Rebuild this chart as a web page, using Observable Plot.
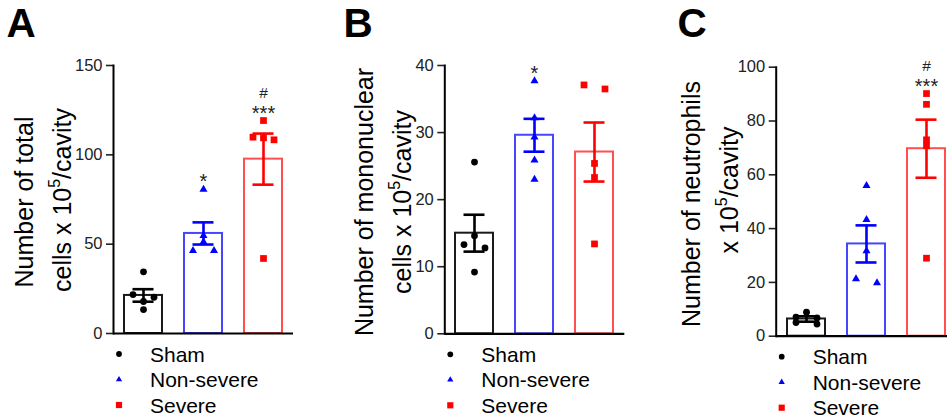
<!DOCTYPE html>
<html><head><meta charset="utf-8">
<script src="https://cdn.jsdelivr.net/npm/d3@7"></script>
<script src="https://cdn.jsdelivr.net/npm/@observablehq/plot@0.6"></script>
<style>
html,body{margin:0;padding:0;background:#fff;overflow:hidden}
#wrap{position:relative;width:947px;height:419px;overflow:hidden;font-family:"Liberation Sans",Arial,sans-serif}
.panel{position:absolute;top:0}
.panel svg{max-width:none !important;display:block}
#overlay{position:absolute;left:0;top:0}
</style></head><body><div id="wrap"></div>
<script>
// ---------- data ----------
const groups = ["Sham", "Non-severe", "Severe"];

// Panel A: total cells (x10^5/cavity)
const totalSham = [34.5, 21.8, 20.3, 17.9, 13.4];
const totalNonSevere = [80.7, 54.7, 51.3, 46.4, 46.4];
const totalSevere = [119.2, 109.5, 108.4, 109.9, 42.0];
const totalMean = [21.3, 56.0, 97.6];
const totalSem = [3.5, 6.2, 14.3];
const totalTicks = [0, 50, 100, 150];
const totalStars = ["", "*", "***"];
const totalHash = ["", "", "#"];

// Panel B: mononuclear cells
const monoSham = [25.6, 14.6, 13.3, 12.8, 9.2];
const monoNonSevere = [37.7, 32.2, 29.3, 25.9, 23.0];
const monoSevere = [37.1, 36.5, 25.4, 23.3, 13.4];
const monoMean = [15.0, 29.6, 27.1];
const monoSem = [2.75, 2.45, 4.4];
const monoTicks = [0, 10, 20, 30, 40];
const monoStars = ["", "*", ""];
const monoHash = ["", "", ""];

// Panel C: neutrophils
const neutSham = [8.9, 6.8, 7.1, 4.5, 5.1];
const neutNonSevere = [56.0, 43.3, 31.7, 19.8, 21.3];
const neutSevere = [90.2, 86.2, 73.0, 70.8, 29.0];
const neutMean = [6.4, 34.3, 69.7];
const neutSem = [1.0, 6.9, 10.8];
const neutTicks = [0, 20, 40, 60, 80, 100];
const neutStars = ["", "", "***"];
const neutHash = ["", "", "#"];

// ---------- styles ----------
const barStroke = ["#1a1a1a", "#4646ff", "#ff4f4f"];
const markColor = ["#000000", "#0000ff", "#ff0000"];
const symbols = ["circle", "triangle", "square"];
const symR = [3.4, 3.0, 3.8];
const FONT = '"Liberation Sans", Arial, sans-serif';

const panels = [
  {letter: "A", letterX: 6.5, left: 0, width: 315, axisX: 113, top: 65, bottom: 333,
   yMax: 150, ticks: totalTicks, pts: [totalSham, totalNonSevere, totalSevere],
   mean: totalMean, sem: totalSem, stars: totalStars, hash: totalHash,
   label: [["Number of total", 33, 202], ["cells x 10", "/cavity", 71, 200]]},
  {letter: "B", letterX: 343.5, left: 320, width: 315, axisX: 444.3, top: 65, bottom: 333.3,
   yMax: 40, ticks: monoTicks, pts: [monoSham, monoNonSevere, monoSevere],
   mean: monoMean, sem: monoSem, stars: monoStars, hash: monoHash,
   label: [["Number of mononuclear", 373, 202], ["cells x 10", "/cavity", 411, 202]]},
  {letter: "C", letterX: 677.5, left: 630, width: 330, axisX: 775.7, top: 66.7, bottom: 335.7,
   yMax: 100, ticks: neutTicks, pts: [neutSham, neutNonSevere, neutSevere],
   mean: neutMean, sem: neutSem, stars: neutStars, hash: neutHash,
   label: [["Number of neutrophils", 700, 204], ["x 10", "/cavity", 738, 190]]}
];

const wrap = document.getElementById("wrap");

// assign horizontal slots to points that would overlap (GraphPad-like scatter)
function slotPoints(values, pxPerUnit) {
  const sorted = values.map((v, i) => ({v, i})).sort((a, b) => b.v - a.v);
  const clusters = [];
  let cur = [];
  for (const p of sorted) {
    if (cur.length && (cur[cur.length - 1].v - p.v) * pxPerUnit > 4.2) { clusters.push(cur); cur = []; }
    cur.push(p);
  }
  if (cur.length) clusters.push(cur);
  const out = [];
  for (const c of clusters) {
    const k = c.length;
    c.forEach((p, j) => out.push({value: p.v, slot: k === 1 ? 0 : (k === 2 ? (j === 0 ? -1 : 1) : j - (k - 1) / 2)}));
  }
  return out;
}

for (const P of panels) {
  const H = 345;
  const plotH = P.bottom - P.top;
  const rows = groups.map((g, i) => ({
    group: g, i, mean: P.mean[i], sem: P.sem[i],
    max: d3.max(P.pts[i]), stars: P.stars[i], hash: P.hash[i]
  }));
  const marks = [];
  groups.forEach((g, i) => {
    const r = [rows[i]];
    marks.push(Plot.barY(r, {x: "group", y: "mean", fill: "white", stroke: barStroke[i], strokeWidth: 2}));
  });
  groups.forEach((g, i) => {
    const r = [rows[i]];
    const c = markColor[i];
    marks.push(Plot.ruleX(r, {x: "group", y1: d => d.mean - d.sem, y2: d => d.mean + d.sem, stroke: c, strokeWidth: 2.6}));
    marks.push(Plot.tickY(r, {x: "group", y: d => d.mean + d.sem, insetLeft: 8.5, insetRight: 8.5, stroke: c, strokeWidth: 2.6}));
    marks.push(Plot.tickY(r, {x: "group", y: d => d.mean - d.sem, insetLeft: 8.5, insetRight: 8.5, stroke: c, strokeWidth: 2.6}));
  });
  groups.forEach((g, i) => {
    const pts = slotPoints(P.pts[i], plotH / P.yMax).map(p => ({...p, group: g}));
    const slots = Array.from(new Set(pts.map(p => p.slot)));
    for (const s of slots) {
      marks.push(Plot.dot(pts.filter(p => p.slot === s), {
        x: "group", y: "value", symbol: symbols[i], r: symR[i],
        fill: markColor[i], stroke: "none", dx: s * 10.5
      }));
    }
  });
  marks.push(Plot.text(rows, {x: "group", y: "max", text: "stars", lineAnchor: "bottom", dy: -1, fontSize: 20, fill: "#222"}));
  marks.push(Plot.text(rows, {x: "group", y: "max", text: "hash", lineAnchor: "bottom", dy: -23, fontSize: 15.5, fill: "#222"}));
  marks.push(Plot.axisY({ticks: P.ticks, tickSize: 7, tickPadding: 4, fontSize: 16.5, color: "#222", strokeWidth: 1.6, label: null}));
  marks.push(Plot.ruleY([0], {stroke: "black", strokeWidth: 2.2}));
  marks.push(Plot.frame({anchor: "left", stroke: "black", strokeWidth: 2}));

  const marginLeft = P.axisX - P.left;
  const plot = Plot.plot({
    width: P.width, height: H,
    marginLeft, marginRight: P.width - marginLeft - 180,
    marginTop: P.top, marginBottom: H - P.bottom,
    x: {type: "band", domain: groups, paddingInner: 0.367, paddingOuter: 0.1835, axis: null},
    y: {domain: [0, P.yMax], axis: null},
    style: {fontFamily: FONT, background: "white", overflow: "visible", maxWidth: "none"},
    marks
  });
  const div = document.createElement("div");
  div.className = "panel";
  div.style.left = P.left + "px";
  div.style.width = P.width + "px";
  div.appendChild(plot);
  wrap.appendChild(div);
}

// ---------- overlay text: letters, y labels, legends ----------
const svg = d3.select(wrap).append("svg").attr("id", "overlay")
  .attr("width", 947).attr("height", 419)
  .style("font-family", FONT);

for (const P of panels) {
  svg.append("text").attr("x", P.letterX).attr("y", 36.6)
    .attr("font-size", 40.5).attr("font-weight", "bold").attr("fill", "black").text(P.letter);
  const [l1, l2] = P.label;
  svg.append("text").attr("transform", `translate(${l1[1]},${l1[2]}) rotate(-90)`)
    .attr("text-anchor", "middle").attr("font-size", 25).attr("fill", "black").text(l1[0]);
  const t2 = svg.append("text").attr("transform", `translate(${l2[2]},${l2[3]}) rotate(-90)`)
    .attr("text-anchor", "middle").attr("font-size", 25).attr("fill", "black");
  t2.append("tspan").text(l2[0]);
  t2.append("tspan").attr("dy", -11).attr("font-size", 16).text("5");
  t2.append("tspan").attr("dy", 11).text(l2[1]);

  const legendSizes = [26, 17, 38];
  const legendSym = [d3.symbolCircle, d3.symbolTriangle, d3.symbolSquare];
  groups.forEach((g, i) => {
    const cy = P.bottom + 21 + 25.5 * i;
    svg.append("path").attr("d", d3.symbol(legendSym[i], legendSizes[i])())
      .attr("transform", `translate(${P.axisX + 6},${cy})`).attr("fill", markColor[i]);
    svg.append("text").attr("x", P.axisX + 37).attr("y", cy + 7.6)
      .attr("font-size", 21).attr("fill", "black").text(g);
  });
}
</script></body></html>
